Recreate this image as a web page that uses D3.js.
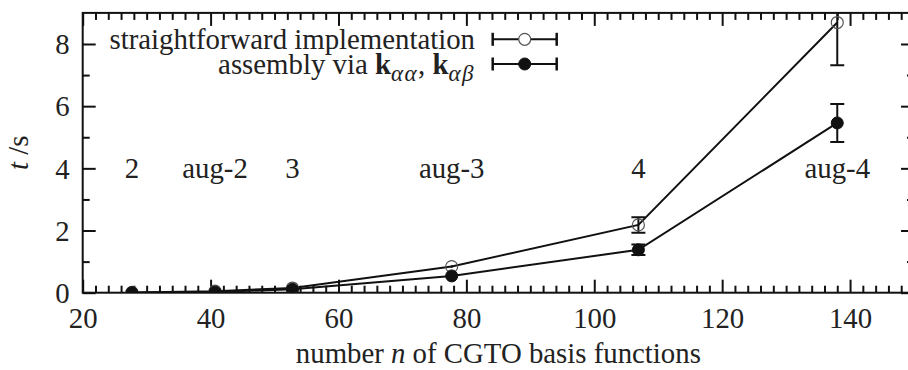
<!DOCTYPE html>
<html>
<head>
<meta charset="utf-8">
<script src="https://cdn.jsdelivr.net/npm/d3@7"></script>
<style>
  html, body { margin: 0; padding: 0; background: #fff; }
  svg { display: block; }
</style>
</head>
<body>
<svg id="chart" width="908" height="370"></svg>
<script>
// Basis-set sizes (number n of contracted GTOs) and their labels
const basisNames = ["2", "aug-2", "3", "aug-3", "4", "aug-4"];
const basisN = [27.7, 40.7, 52.8, 77.7, 106.9, 138.0];

// Timings t / s: straightforward implementation
const straightT = [0.01, 0.05, 0.15, 0.84, 2.18, 8.69];
const straightErr = [0.01, 0.01, 0.02, 0.04, 0.25, 1.37];

// Timings t / s: assembly via k_aa, k_ab
const assemblyT = [0.0, 0.02, 0.11, 0.54, 1.38, 5.46];
const assemblyErr = [0.0, 0.01, 0.01, 0.03, 0.17, 0.61];

const xMajorTicks = [20, 40, 60, 80, 100, 120, 140];
const yMajorTicks = [0, 2, 4, 6, 8];
const labelLevel = 4;

const FONT = '"Liberation Serif", "Times New Roman", Tinos, serif';
const FS = 28.8;
const INK = "#111", TEXT_INK = "#222";

const svg = d3.select("#chart").attr("font-family", FONT);
const padL = 82.7, padR = 914, padT = 12.9, padB = 292.7;

const x = d3.scaleLinear().domain([20, 150]).range([padL, padR]);
const y = d3.scaleLinear().domain([0, 9]).range([padB, padT]);

const clipId = "plotclip";
svg.append("clipPath").attr("id", clipId)
  .append("rect").attr("x", padL).attr("y", padT)
  .attr("width", padR - padL).attr("height", padB - padT);

// Frame ticks (pointing inward on all four sides)
function styleAxis(g) {
  g.attr("font-family", FONT).attr("font-size", FS);
  g.select(".domain").remove();
  g.selectAll(".tick line").attr("stroke", INK).attr("stroke-width", 2);
  g.selectAll(".tick text").attr("font-family", FONT).attr("font-size", FS).attr("fill", TEXT_INK);
}
const xMinor = d3.range(20, 151, 2).filter(v => !xMajorTicks.includes(v) && v !== 150);
const yMinor = [1, 3, 5, 7];

svg.append("g").attr("transform", `translate(0,${padB})`)
  .call(d3.axisBottom(x).tickValues(xMinor).tickSize(-7).tickFormat(""))
  .call(styleAxis);
const xAxisG = svg.append("g").attr("transform", `translate(0,${padB})`)
  .call(d3.axisBottom(x).tickValues(xMajorTicks).tickSize(-13).tickFormat(d3.format("d")))
  .call(styleAxis);
xAxisG.selectAll(".tick text").attr("y", 35.6).attr("dy", null);

svg.append("g").attr("transform", `translate(0,${padT})`)
  .call(d3.axisTop(x).tickValues(xMinor).tickSize(-7).tickFormat(""))
  .call(styleAxis);
svg.append("g").attr("transform", `translate(0,${padT})`)
  .call(d3.axisTop(x).tickValues(xMajorTicks).tickSize(-13).tickFormat(""))
  .call(styleAxis);

svg.append("g").attr("transform", `translate(${padL},0)`)
  .call(d3.axisLeft(y).tickValues(yMinor).tickSize(-7).tickFormat(""))
  .call(styleAxis);
const yAxisG = svg.append("g").attr("transform", `translate(${padL},0)`)
  .call(d3.axisLeft(y).tickValues(yMajorTicks).tickSize(-13).tickFormat(d3.format("d")))
  .call(styleAxis);
yAxisG.selectAll(".tick text").attr("x", -13).attr("dy", "0.34em");

svg.append("g").attr("transform", `translate(${padR},0)`)
  .call(d3.axisRight(y).tickValues(yMinor).tickSize(-7).tickFormat(""))
  .call(styleAxis);
svg.append("g").attr("transform", `translate(${padR},0)`)
  .call(d3.axisRight(y).tickValues(yMajorTicks).tickSize(-13).tickFormat(""))
  .call(styleAxis);

// Plot border
svg.append("rect")
  .attr("x", padL).attr("y", padT)
  .attr("width", padR - padL).attr("height", padB - padT)
  .attr("fill", "none").attr("stroke", INK).attr("stroke-width", 2);

// Series
const series = [
  { name: "straight", t: straightT, err: straightErr, filled: false },
  { name: "assembly", t: assemblyT, err: assemblyErr, filled: true }
];
const line = d3.line().x(d => x(d.n)).y(d => y(d.t));
const plot = svg.append("g").attr("clip-path", `url(#${clipId})`);

series.forEach(s => {
  const pts = basisN.map((n, i) => ({ n, t: s.t[i], e: s.err[i] }));
  plot.append("path").datum(pts)
    .attr("d", line).attr("fill", "none")
    .attr("stroke", INK).attr("stroke-width", 2);
  const eb = plot.append("g").selectAll("g").data(pts).join("g");
  eb.append("line")
    .attr("x1", d => x(d.n)).attr("x2", d => x(d.n))
    .attr("y1", d => y(d.t - d.e)).attr("y2", d => y(d.t + d.e))
    .attr("stroke", INK).attr("stroke-width", 2);
  [-1, 1].forEach(sg => {
    eb.filter(d => d.e > 0.1).append("line")
      .attr("x1", d => x(d.n) - 7).attr("x2", d => x(d.n) + 7)
      .attr("y1", d => y(d.t + sg * d.e)).attr("y2", d => y(d.t + sg * d.e))
      .attr("stroke", INK).attr("stroke-width", 2);
  });
  plot.append("g").selectAll("circle").data(pts).join("circle")
    .attr("cx", d => x(d.n)).attr("cy", d => y(d.t)).attr("r", 6)
    .attr("fill", s.filled ? INK : "none")
    .attr("stroke", s.filled ? INK : "#555")
    .attr("stroke-width", s.filled ? 1 : 1.2);
});

// Basis-set labels
svg.append("g").selectAll("text").data(basisNames).join("text")
  .attr("x", (d, i) => x(basisN[i])).attr("y", y(labelLevel))
  .attr("dy", "0.34em").attr("text-anchor", "middle")
  .attr("font-family", FONT).attr("font-size", FS).attr("fill", TEXT_INK)
  .text(d => d);

// Legend
const legend = svg.append("g");
const legRows = [39.3, 64];
const lx0 = 492.7, lx1 = 556.7, lxc = 524.7, textRight = 475;

legend.append("text").attr("x", textRight).attr("y", legRows[0])
  .attr("dy", "0.34em").attr("text-anchor", "end")
  .attr("font-family", FONT).attr("font-size", FS).attr("fill", TEXT_INK)
  .text("straightforward implementation");

const t2 = legend.append("text").attr("x", textRight).attr("y", legRows[1])
  .attr("dy", "0.34em").attr("text-anchor", "end")
  .attr("font-family", FONT).attr("font-size", FS).attr("fill", TEXT_INK);
t2.append("tspan").text("assembly via ");
t2.append("tspan").attr("font-weight", "bold").text("k");
t2.append("tspan").attr("font-style", "italic").attr("font-size", 23)
  .attr("letter-spacing", 1.5).attr("dy", 7).text("αα");
t2.append("tspan").attr("dy", -7).text(", ");
t2.append("tspan").attr("font-weight", "bold").text("k");
t2.append("tspan").attr("font-style", "italic").attr("font-size", 23)
  .attr("letter-spacing", 1.5).attr("dy", 7).text("αβ");

series.forEach((s, i) => {
  const yy = legRows[i];
  legend.append("line").attr("x1", lx0).attr("x2", lx1).attr("y1", yy).attr("y2", yy)
    .attr("stroke", INK).attr("stroke-width", 2);
  [lx0, lx1].forEach(cx => legend.append("line")
    .attr("x1", cx).attr("x2", cx).attr("y1", yy - 6.5).attr("y2", yy + 6.5)
    .attr("stroke", INK).attr("stroke-width", 2.5));
  legend.append("circle").attr("cx", lxc).attr("cy", yy).attr("r", 6)
    .attr("fill", s.filled ? INK : "#fff")
    .attr("stroke", s.filled ? INK : "#555").attr("stroke-width", s.filled ? 1 : 1.2);
});

// Axis titles, centred on the plot frame
const xt = svg.append("text").attr("x", (padL + padR) / 2).attr("y", 363)
  .attr("text-anchor", "middle")
  .attr("font-family", FONT).attr("font-size", FS).attr("fill", TEXT_INK);
xt.append("tspan").text("number ");
xt.append("tspan").attr("font-style", "italic").text("n");
xt.append("tspan").text(" of CGTO basis functions");

const yt = svg.append("text")
  .attr("transform", `translate(28,${(padT + padB) / 2}) rotate(-90)`)
  .attr("text-anchor", "middle")
  .attr("font-family", FONT).attr("font-size", FS).attr("fill", TEXT_INK);
yt.append("tspan").attr("font-style", "italic").text("t");
yt.append("tspan").text(" /s");
</script>
</body>
</html>
